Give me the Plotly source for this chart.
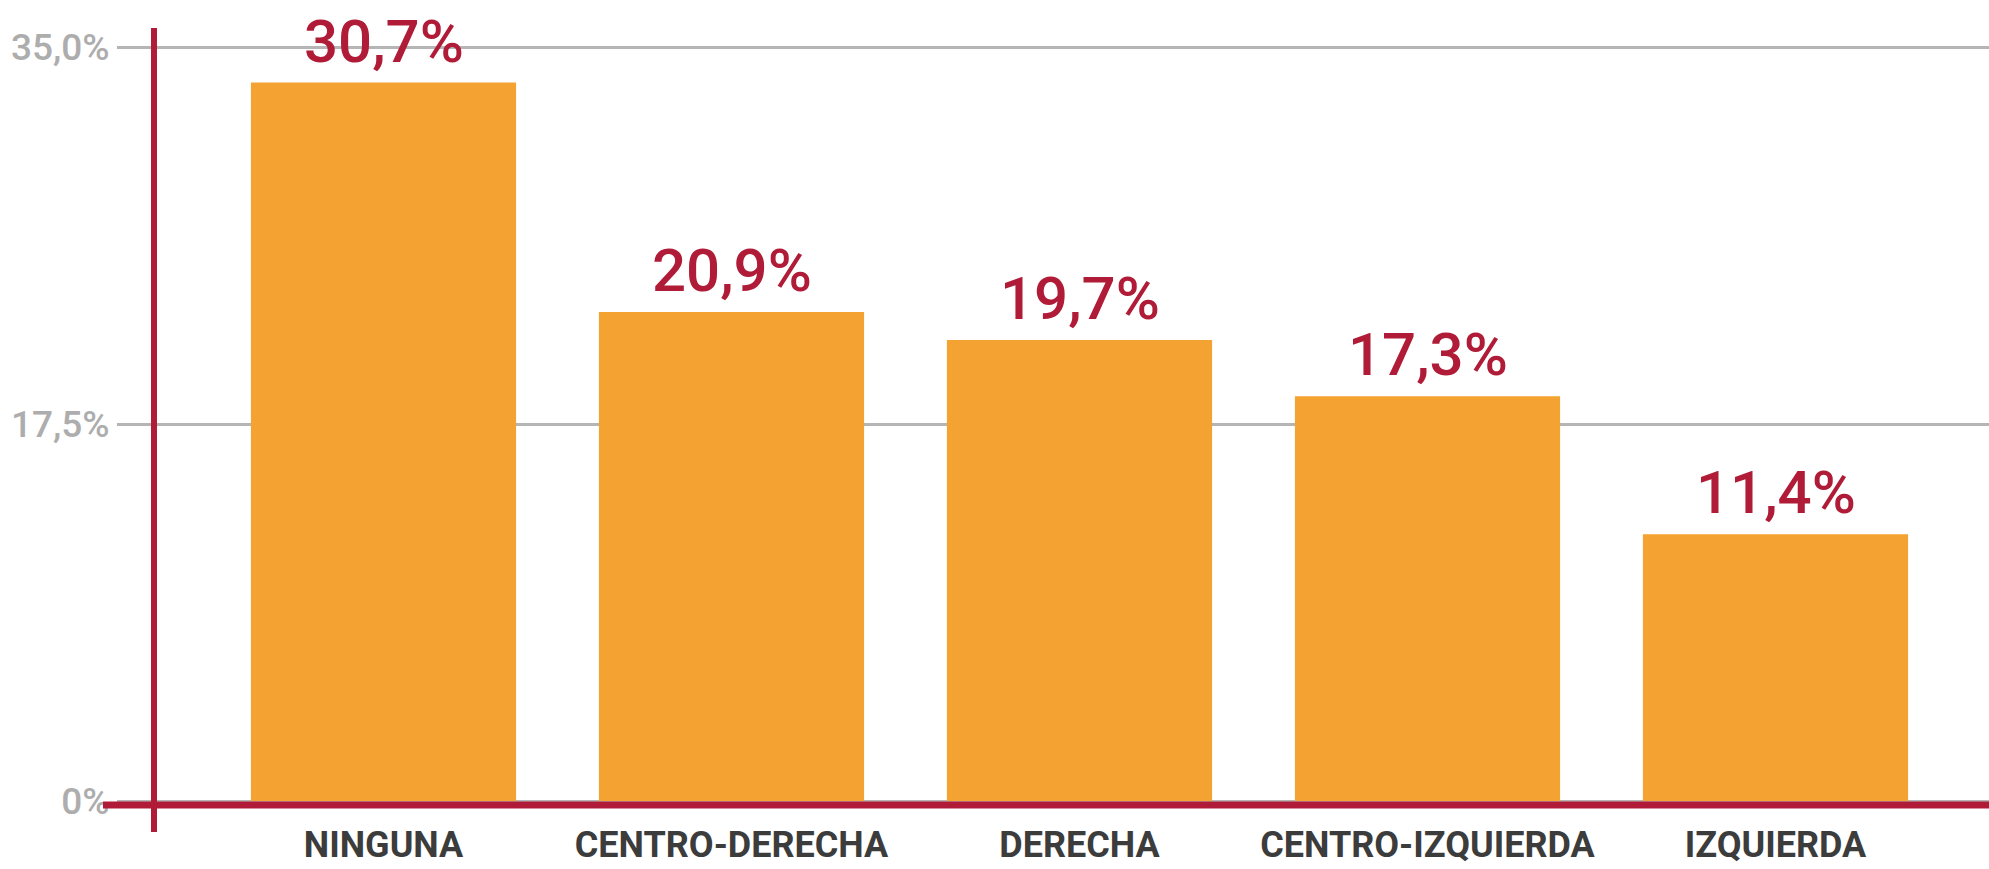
import plotly.graph_objects as go

categories = ["NINGUNA", "CENTRO-DERECHA", "DERECHA", "CENTRO-IZQUIERDA", "IZQUIERDA"]
values = [30.7, 20.9, 19.7, 17.3, 11.4]
tick_values = [0, 16.1, 32.2]
tick_text = ["0%", "17,5%", "35,0%"]

BAR = "#F4A231"
RED = "#B01C37"
GRID = "#B5B5B5"
TICKTXT = "#ADADAD"
CAT = "#3C3C3C"

W, H = 1989, 869
ML, MR, MT, MB = 154, 0, 28, 49

fig = go.Figure()
fig.add_trace(go.Bar(x=categories, y=values, marker=dict(color=BAR, line=dict(width=0)),
                     hoverinfo="skip"))

labels = [f"{v:.1f}".replace(".", ",") + "%" for v in values]
for c, v, t in zip(categories, values, labels):
    fig.add_annotation(x=c, y=v, text=t, showarrow=False, yanchor="bottom", xanchor="center",
                       yshift=4, font=dict(family="Roboto", size=60, color=RED, weight=500))

plot_h = H - MT - MB
# red vertical axis (extends slightly below the plot area)
fig.add_shape(type="line", xref="paper", yref="paper", x0=0, x1=0,
              y0=-(832 - (H - MB)) / plot_h, y1=1,
              line=dict(color=RED, width=6), layer="above")
# red baseline
zero_px = 805
yp = (H - MB - zero_px) / plot_h
fig.add_shape(type="line", xref="paper", yref="paper", x0=-(ML - 103) / (W - ML - MR), x1=1,
              y0=yp, y1=yp, line=dict(color=RED, width=7), layer="above")

px_per_unit = 23.4
zero_y = 801
y_lo = (zero_y - (H - MB)) / px_per_unit
y_hi = (zero_y - MT) / px_per_unit

fig.update_layout(
    width=W, height=H,
    margin=dict(l=ML, r=MR, t=MT, b=MB, autoexpand=False),
    plot_bgcolor="white", paper_bgcolor="white",
    showlegend=False, bargap=0.238,
    xaxis=dict(type="category", range=[-0.6595, 4.6135], showgrid=False, zeroline=False,
               showline=False, ticks="", automargin=False,
               tickfont=dict(family="Roboto", size=36, color=CAT, weight=700),
               ticklabelstandoff=0),
    yaxis=dict(range=[y_lo, y_hi], tickvals=tick_values, ticktext=tick_text,
               showgrid=True, gridcolor=GRID, gridwidth=3, zeroline=False, showline=False,
               ticks="outside", ticklen=36, tickwidth=3, tickcolor=GRID, automargin=False,
               tickfont=dict(family="Roboto", size=37, color=TICKTXT, weight=500),
               ticklabelstandoff=0),
)

fig.write_html("out.html", config={"displayModeBar": False},
               post_script="document.body.style.margin='0';document.body.style.overflow='hidden';")
